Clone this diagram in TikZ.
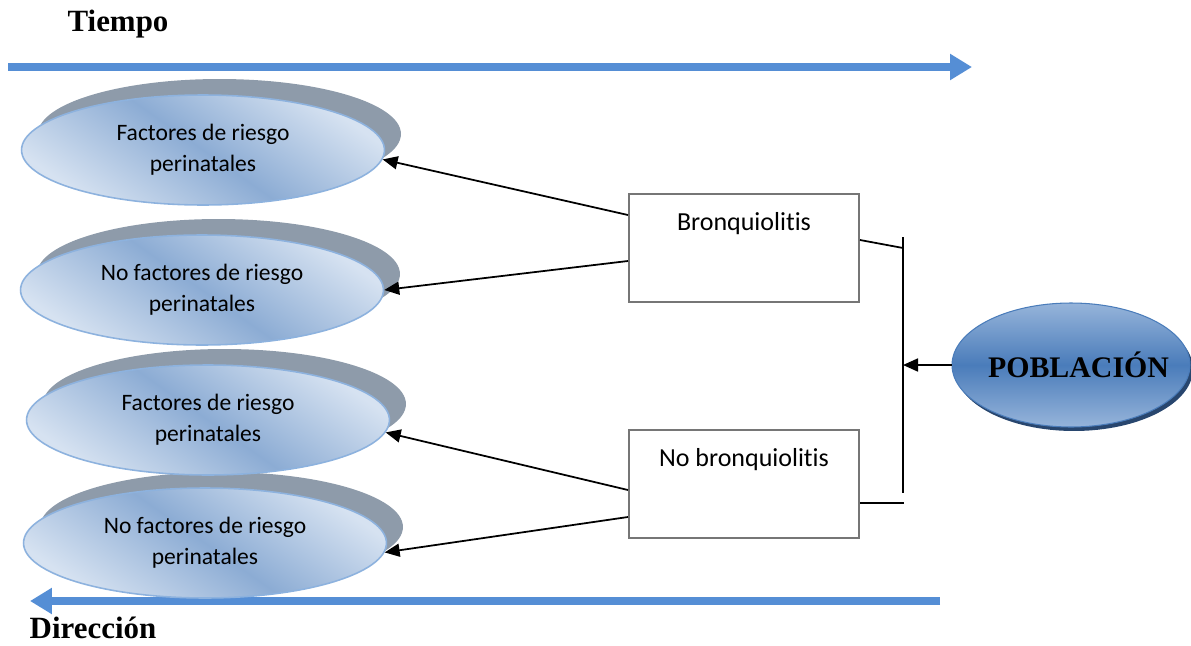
\documentclass[tikz,border=0pt]{standalone}
\usepackage{fontspec}
\setmainfont{Carlito}[Ligatures=NoCommon]
\newfontfamily\timesfont{Liberation Serif}
\usepackage{tikz}
\usetikzlibrary{arrows.meta,shapes.geometric,shadows,positioning}

\definecolor{flecha}{RGB}{85,142,213}
\definecolor{elclaro}{RGB}{214,226,241}
\definecolor{elmedio}{RGB}{140,172,212}
\definecolor{elborde}{RGB}{141,178,222}
\definecolor{sombra}{RGB}{142,155,170}
\definecolor{pobclaro}{RGB}{150,180,218}
\definecolor{pobmedio}{RGB}{74,124,186}
\definecolor{pobsombra}{RGB}{40,70,110}
\definecolor{cajaborde}{RGB}{118,118,118}

\begin{document}
\begin{tikzpicture}[x=0.02cm,y=-0.02cm,
		factor/.style={ellipse, draw=elborde, line width=0.9pt,
			top color=elclaro, bottom color=elclaro, middle color=elmedio, shading angle=-35,
			minimum width=7.26cm, minimum height=2.2cm, inner sep=0pt, align=center,
			font=\fontsize{13.4}{17.6}\selectfont,
			drop shadow={shadow xshift=0.33cm, shadow yshift=0.32cm, fill=sombra, opacity=1}},
		caja/.style={rectangle, draw=cajaborde, line width=1.2pt, fill=white,
			minimum width=4.6cm, inner sep=0.15cm, text height=0.57cm, text depth=1.29cm,
			font=\fontsize{14.8}{18}\selectfont},
		poblacion/.style={ellipse, draw=pobmedio, line width=0.6pt,
			top color=pobclaro, bottom color=pobclaro, middle color=pobmedio,
			minimum width=4.76cm, minimum height=2.48cm, inner sep=0pt,
			font=\timesfont\bfseries\fontsize{17}{18}\selectfont,
			drop shadow={shadow xshift=0.06cm, shadow yshift=-0.08cm, fill=pobsombra, opacity=1}},
		titulo/.style={font=\timesfont\bfseries\fontsize{17.6}{20}\selectfont},
		gruesa/.style={draw=flecha, line width=4pt, -{Triangle[length=0.44cm,width=0.5cm]}},
		fina/.style={draw=black, line width=1pt, -{Triangle[length=0.3cm,width=0.26cm]}}
	]
	\useasboundingbox (0,0) rectangle (1191,646);
	
	% tiempo y direccion
	\node[titulo] (tiempo) at (118,24) {Tiempo};
	\coordinate (t0) at (8,67);
	\coordinate (t1) at (972,67);
	\draw[gruesa] (t0) -- (t1);
	\node[titulo] (direccion) at (93,628) {Dirección};
	\coordinate (d0) at (940,601);
	\coordinate (d1) at (30,601);
	\draw[gruesa] (d0) -- (d1);
	
	% resultados
	\node[factor] (f1) at (203,150) {Factores de riesgo\\perinatales};
	\node[factor] (f2) at (202,290) {No factores de riesgo\\perinatales};
	\node[factor] (f4) at (205,543) {No factores de riesgo\\perinatales};
	\node[factor] (f3) at (208,420) {Factores de riesgo\\perinatales};
	
	\node[caja] (b1) at (744,248) {Bronquiolitis};
	\node[caja] (b2) at (744,484) {No bronquiolitis};
	
	\node[poblacion] (pob) at (1071,365) {\makebox[0pt]{\hspace{0.3cm}POBLACIÓN}};
	
	\draw[fina] ([yshift=0.66cm]b1.west) -- (f1.-3);
	\draw[fina] ([yshift=-0.26cm]b1.west) -- (f2.east);
	\draw[fina] ([yshift=-0.12cm]b2.west) -- (f3.-4);
	\draw[fina] ([yshift=-0.66cm]b2.west) -- (f4.-3);
	
	% llave
	\coordinate (jtop) at (903,237);
	\coordinate (jmid) at (903,365);
	\coordinate (jbot) at (903,493);
	\draw[line width=1pt] (jtop) -- (jbot);
	\draw[line width=1pt] ([yshift=0.16cm]b1.east) -- (b1.east -| jtop);
	\draw[line width=1pt] ([yshift=-0.38cm]b2.east) -- ++(44,0);
	\draw[fina] (pob.west) -- (jmid);
\end{tikzpicture}
\end{document}
